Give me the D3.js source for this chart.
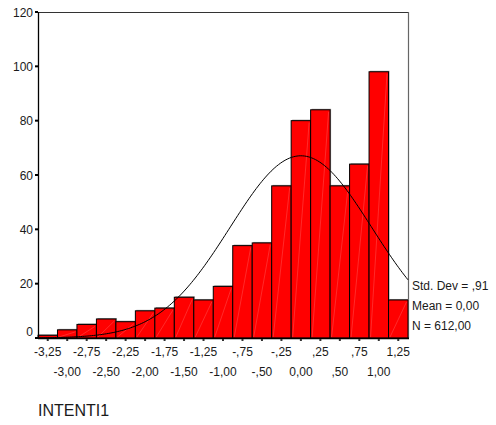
<!DOCTYPE html>
<html>
<head>
<meta charset="utf-8">
<script src="https://cdn.jsdelivr.net/npm/d3@7/dist/d3.min.js"></script>
<style>
  html, body { margin: 0; padding: 0; background: #fff; }
  svg { display: block; }
  text { font-family: "Liberation Sans", Arial, sans-serif; fill: #1a1a1a; }
</style>
</head>
<body>
<svg id="chart" width="496" height="425"></svg>
<script>
// Bin centres (width 0.25) and counts
const binCenters = [-3.25, -3.00, -2.75, -2.50, -2.25, -2.00, -1.75, -1.50, -1.25, -1.00,
                    -0.75, -0.50, -0.25, 0.00, 0.25, 0.50, 0.75, 1.00, 1.25];
const binLabels = ["-3,25", "-3,00", "-2,75", "-2,50", "-2,25", "-2,00", "-1,75", "-1,50", "-1,25", "-1,00",
                   "-,75", "-,50", "-,25", "0,00", ",25", ",50", ",75", "1,00", "1,25"];
const counts = [1, 3, 5, 7, 6, 10, 11, 15, 14, 19, 34, 35, 56, 80, 84, 56, 64, 98, 14];
const yTicks = [0, 20, 40, 60, 80, 100, 120];
const stats = { mean: 0.00, sd: 0.91, n: 612 };
const legendLines = ["Std. Dev = ,91", "Mean = 0,00", "N = 612,00"];
const binWidth = 0.25;
const axisTitle = "INTENTI1";

(function () {
const svg = d3.select("#chart");
const pLeft = 38, pRight = 408, pTop = 12, pBottom = 338;

const x = d3.scaleLinear()
  .domain([binCenters[0] - binWidth / 2, binCenters[binCenters.length - 1] + binWidth / 2])
  .range([pLeft, pRight]);
const y = d3.scaleLinear().domain([0, 120]).range([pBottom, pTop]);

// Frame (top and right)
svg.append("line").attr("x1", pLeft).attr("x2", pRight).attr("y1", pTop + 0.5).attr("y2", pTop + 0.5)
  .attr("stroke", "#333").attr("stroke-width", 1);
svg.append("line").attr("x1", pRight + 0.5).attr("x2", pRight + 0.5).attr("y1", pTop).attr("y2", pBottom)
  .attr("stroke", "#666").attr("stroke-width", 1.2);

const bars = svg.append("g");
const data = binCenters.map((c, i) => ({ c, v: counts[i] }));

// shadows
bars.selectAll("rect.shadow").data(data).join("rect")
  .attr("class", "shadow")
  .attr("x", d => x(d.c - binWidth / 2) + 1)
  .attr("y", d => y(d.v) - 1)
  .attr("width", d => x(d.c + binWidth / 2) - x(d.c - binWidth / 2))
  .attr("height", d => pBottom - y(d.v))
  .attr("fill", "#9a9a9a");

bars.selectAll("rect.bar").data(data).join("rect")
  .attr("class", "bar")
  .attr("x", d => x(d.c - binWidth / 2))
  .attr("y", d => y(d.v))
  .attr("width", d => x(d.c + binWidth / 2) - x(d.c - binWidth / 2))
  .attr("height", d => pBottom - y(d.v))
  .attr("fill", "#ff0000")
  .attr("stroke", "#000")
  .attr("stroke-width", 1);

// faint diagonal highlights
bars.selectAll("line.diag").data(data.filter(d => d.v > 1)).join("line")
  .attr("class", "diag")
  .attr("x1", d => x(d.c - binWidth / 2) + 1.5)
  .attr("y1", pBottom - 1)
  .attr("x2", d => x(d.c + binWidth / 2) - 1.5)
  .attr("y2", d => y(d.v) + 2)
  .attr("stroke", "#ff9c9c")
  .attr("stroke-opacity", 0.45)
  .attr("stroke-width", 0.6);

// Normal curve
const curvePts = d3.range(0, 201).map(i => {
  const xv = x.domain()[0] + (x.domain()[1] - x.domain()[0]) * i / 200;
  const z = (xv - stats.mean) / stats.sd;
  const dens = stats.n * binWidth / (stats.sd * Math.sqrt(2 * Math.PI)) * Math.exp(-0.5 * z * z);
  return [xv, dens];
});
svg.append("path")
  .attr("d", d3.line().x(d => x(d[0])).y(d => y(d[1]))(curvePts))
  .attr("fill", "none").attr("stroke", "#000").attr("stroke-width", 1);

// Y axis
svg.append("line").attr("x1", pLeft + 0.5).attr("x2", pLeft + 0.5).attr("y1", pTop).attr("y2", pBottom + 1)
  .attr("stroke", "#000").attr("stroke-width", 1.3);
const yAxis = svg.append("g");
yAxis.selectAll("line").data(yTicks).join("line")
  .attr("x1", pLeft - 3).attr("x2", pLeft).attr("y1", d => y(d)).attr("y2", d => y(d))
  .attr("stroke", "#000").attr("stroke-width", 2);
yAxis.selectAll("text").data(yTicks).join("text")
  .attr("x", pLeft - 5).attr("y", d => y(d) + (d === 0 ? -2 : 4.5))
  .attr("text-anchor", "end").attr("font-size", 12)
  .text(d => d);

// X axis
svg.append("line").attr("x1", pLeft).attr("x2", pRight + 1).attr("y1", pBottom + 0.5).attr("y2", pBottom + 0.5)
  .attr("stroke", "#000").attr("stroke-width", 1.3);
const xAxis = svg.append("g");
xAxis.selectAll("rect").data(binCenters).join("rect")
  .attr("x", d => x(d) - 1).attr("y", pBottom + 1).attr("width", 2).attr("height", 2)
  .attr("fill", "#333");
xAxis.selectAll("text").data(binCenters).join("text")
  .attr("x", d => x(d))
  .attr("y", (d, i) => i % 2 === 0 ? 356 : 376)
  .attr("text-anchor", "middle").attr("font-size", 12)
  .text((d, i) => binLabels[i]);

// Legend
svg.append("g").selectAll("text").data(legendLines).join("text")
  .attr("x", 412).attr("y", (d, i) => 289.5 + i * 20)
  .attr("font-size", 12)
  .text(d => d);

svg.append("text").attr("x", 38).attr("y", 416).attr("font-size", 16).text(axisTitle);
})();
</script>
</body>
</html>
